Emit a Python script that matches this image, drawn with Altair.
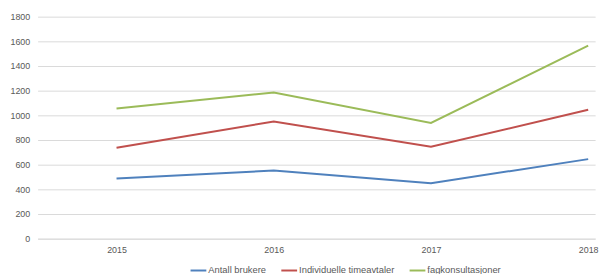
import altair as alt
import pandas as pd

years = [2015, 2016, 2017, 2018]
series_names = ["Antall brukere", "Individuelle timeavtaler", "fagkonsultasjoner"]
antall_brukere = [488, 552, 450, 645]
individuelle_timeavtaler = [738, 950, 745, 1045]
fagkonsultasjoner = [1055, 1185, 938, 1566]
colors = ["#4F81BD", "#C0504D", "#9BBB59"]

rows = []
for name, vals in zip(series_names, [antall_brukere, individuelle_timeavtaler, fagkonsultasjoner]):
    for y, v in zip(years, vals):
        rows.append({"year": y, "value": v, "series": name})
df = pd.DataFrame(rows)

font = "Liberation Sans"
txt = "#595959"
grid = "#D9D9D9"

chart = alt.Chart(df).mark_line(strokeWidth=2).encode(
    x=alt.X("year:Q",
            scale=alt.Scale(domain=[2014.498, 2018.044], nice=False, zero=False),
            axis=alt.Axis(values=years, format="d", title=None, grid=False,
                          ticks=False, domain=True, domainColor=grid,
                          labelPadding=7, labelFontSize=9, labelColor=txt,
                          labelFont=font)),
    y=alt.Y("value:Q",
            scale=alt.Scale(domain=[0, 1800], nice=False),
            axis=alt.Axis(values=list(range(0, 1801, 200)), format="d", title=None,
                          domain=False, ticks=False, gridColor=grid,
                          labelPadding=8, labelFontSize=9, labelColor=txt,
                          labelFont=font)),
    color=alt.Color("series:N",
                    scale=alt.Scale(domain=series_names, range=colors),
                    legend=alt.Legend(orient="none", direction="horizontal",
                                      legendX=154, legendY=248, title=None,
                                      symbolType="stroke", symbolSize=256,
                                      symbolStrokeWidth=2, labelFontSize=9.5,
                                      labelColor=txt, labelFont=font,
                                      labelOffset=1, columnPadding=11)),
).properties(
    width=565, height=225,
    autosize=alt.AutoSizeParams(type="none"),
    padding={"left": 30, "top": 7, "right": 8, "bottom": 34},
).configure_view(stroke=None)

chart.save("out.html", embed_options={"renderer": "svg", "actions": False})
